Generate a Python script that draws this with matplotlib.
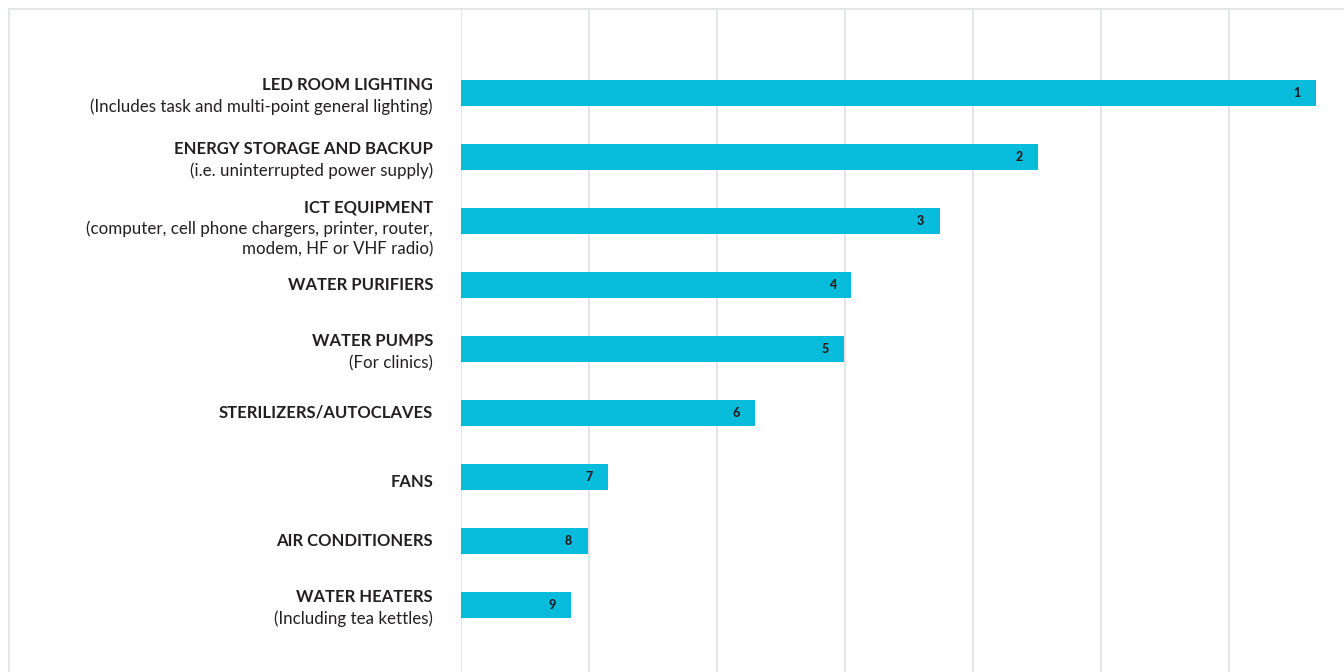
import matplotlib
import matplotlib.pyplot as plt
from matplotlib.lines import Line2D

matplotlib.use('Agg')

plt.rcParams['font.family'] = ['Lato', 'DejaVu Sans']

# categories, ranked 1..9 from top to bottom
titles = ['LED ROOM LIGHTING', 'ENERGY STORAGE AND BACKUP', 'ICT EQUIPMENT',
          'WATER PURIFIERS', 'WATER PUMPS', 'STERILIZERS/AUTOCLAVES', 'FANS',
          'AIR CONDITIONERS', 'WATER HEATERS']
subtitles = ['(Includes task and multi-point general lighting)',
             '(i.e. uninterrupted power supply)',
             '(computer, cell phone chargers, printer, router,\nmodem, HF or VHF radio)',
             '', '(For clinics)', '', '', '', '(Including tea kettles)']
scores = [6.68, 4.51, 3.74, 3.05, 2.99, 2.30, 1.15, 0.99, 0.86]
ranks = [1, 2, 3, 4, 5, 6, 7, 8, 9]

BAR = '#07BCDA'
INK = '#231F20'
GRID = '#E1E3E6'

W, H = 1344, 672
fig = plt.figure(figsize=(W / 100, H / 100), dpi=100)
ax = fig.add_axes([461 / W, 0, 1 - 461 / W, 1 - 8 / H])

pos = list(range(len(titles)))
ax.barh(pos, scores, height=0.41, color=BAR, zorder=2)

ax.set_xlim(0, (W - 461) / 128)
ax.set_ylim(len(titles) - 1 + 1.05, -1.33)
ax.set_xticks(range(0, 7))
ax.set_yticks([])
ax.tick_params(axis='x', length=0, labelbottom=False)
ax.grid(axis='x', color=GRID, linewidth=1.3, zorder=0)
for sp in ax.spines.values():
    sp.set_visible(False)

px = 72 / 100  # points per pixel
title_shift = {0: 0, 1: -8, 2: -14}
for i in pos:
    ax.annotate(str(ranks[i]), (scores[i], i), xytext=(-19 * px, 0),
                textcoords='offset points', ha='center', va='center',
                fontsize=9, fontweight='black', color=INK, zorder=3)
    sub_lines = subtitles[i].split('\n') if subtitles[i] else []
    dy = title_shift[len(sub_lines)]
    if titles[i] == 'FANS':
        dy = 5
    ax.annotate(titles[i], (0, i), xytext=(-28 * px, -dy * px),
                textcoords='offset points', ha='right', va='center',
                fontsize=12, fontweight='bold', color=INK,
                annotation_clip=False)
    for k, line in enumerate(sub_lines):
        ax.annotate(line, (0, i), xytext=(-28 * px, -(dy + 22 + 20 * k) * px),
                    textcoords='offset points', ha='right', va='center',
                    fontsize=12.2, color=INK, annotation_clip=False)

# thin frame along the left and top edges
fig.add_artist(Line2D([8.5 / W, 8.5 / W], [0, 1 - 8.5 / H],
                      transform=fig.transFigure, color=GRID, linewidth=1.3))
fig.add_artist(Line2D([8.5 / W, 1], [1 - 8.5 / H, 1 - 8.5 / H],
                      transform=fig.transFigure, color=GRID, linewidth=1.3))

fig.savefig('out.png', dpi=100)
